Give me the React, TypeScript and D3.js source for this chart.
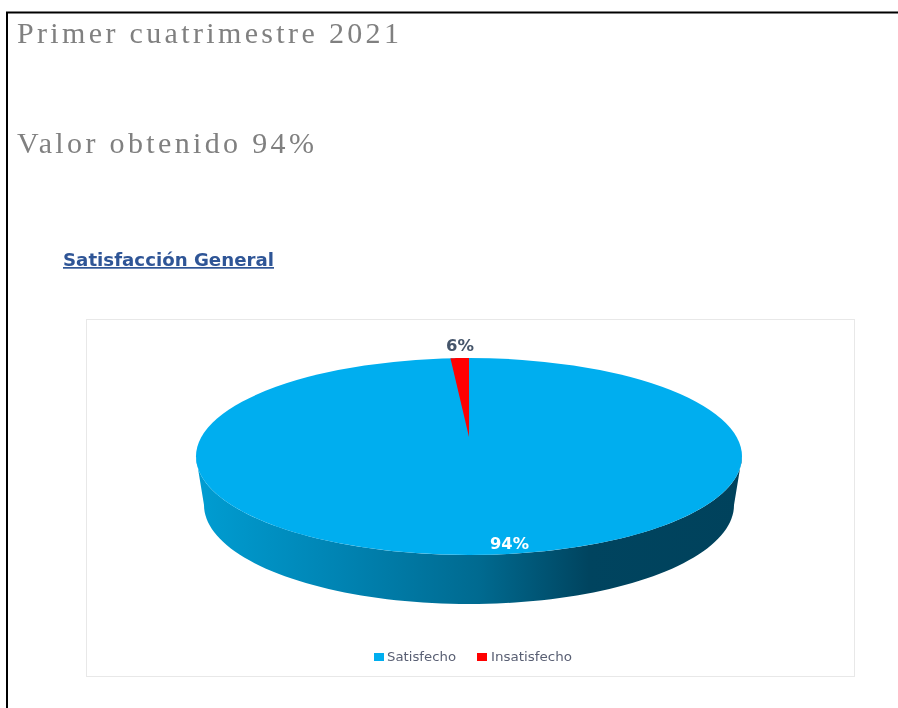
import React from "react";
import * as d3 from "d3";

const categories = ["Satisfecho", "Insatisfecho"];
const values = [94, 6];
const valueLabels = ["94%", "6%"];
const colors = ["#00aeef", "#ff0000"];
const headings = ["Primer cuatrimestre 2021", "Valor obtenido 94%"];
const chartTitle = "Satisfacción General";

const W = 898, H = 708;
const cx = 469, rx = 273, topCy = 456.5, ry = 98.5;
const bottomRx = 265, bottomCy = 505, bottomRy = 99;
const apexY = 437;
// The reference compresses the small slice strongly: its on-screen sweep is far below its share.
const sweepScale = d3.scaleLinear().domain([0, 6]).range([0, (3.9 * Math.PI) / 180]);

const pie = d3.pie<number>().sort(null).value((d) => d);
const arcs = pie(values);
const sliceSweep = sweepScale(arcs[1].value);
const rim = (a: number): [number, number] => [cx + rx * Math.sin(a), topCy - ry * Math.cos(a)];

const line = d3.line();
const steps = d3.range(0, 1.0001, 0.1);
const slicePath =
  line([[cx, apexY], ...steps.map((t) => rim(-sliceSweep * (1 - t)))])! + "Z";

const sideAngles = d3.range(Math.PI / 2, (3 * Math.PI) / 2 + 0.001, Math.PI / 90);
const lower = sideAngles.map((a): [number, number] => [
  cx + bottomRx * Math.sin(a),
  bottomCy - bottomRy * Math.cos(a),
]);
const upper = sideAngles.map(rim).reverse();
const sidePath = line([...lower, ...upper])! + "Z";

export default function App() {
  return (
    <svg
      width={W}
      height={H}
      viewBox={`0 0 ${W} ${H}`}
      style={{ position: "absolute", left: 0, top: 0, display: "block", background: "#fff" }}
    >
      <defs>
        <linearGradient id="side" gradientUnits="userSpaceOnUse" x1={196} x2={742} y1={0} y2={0}>
          <stop offset="0" stopColor="#009dd2" />
          <stop offset="0.27" stopColor="#0083b2" />
          <stop offset="0.52" stopColor="#006a90" />
          <stop offset="0.72" stopColor="#00445f" />
          <stop offset="1" stopColor="#00425c" />
        </linearGradient>
        <filter id="soft" x="-5%" y="-30%" width="110%" height="160%">
          <feGaussianBlur stdDeviation="0.35" />
        </filter>
      </defs>

      <line x1={7} x2={7} y1={12} y2={H} stroke="#000" strokeWidth={2} />
      <line x1={6} x2={W} y1={12.5} y2={12.5} stroke="#000" strokeWidth={2} />

      <g fontFamily="'Liberation Serif', serif" fontSize={30} fill="#808080" letterSpacing={3.35} filter="url(#soft)">
        <text x={17} y={43}>{headings[0]}</text>
        <text x={17} y={153}>{headings[1]}</text>
      </g>

      <text
        x={63}
        y={266}
        fontFamily="'DejaVu Sans', sans-serif"
        fontSize={17}
        fontWeight={700}
        fill="#2f5496"
        textDecoration="underline"
        textLength={211}
        lengthAdjust="spacingAndGlyphs"
        filter="url(#soft)"
      >
        {chartTitle}
      </text>

      <rect x={86.5} y={319.5} width={768} height={357} fill="#fff" stroke="#e8e8e8" />

      <path d={sidePath} fill="url(#side)" />
      <ellipse cx={cx} cy={topCy} rx={rx} ry={ry} fill={colors[0]} />
      <path d={slicePath} fill={colors[1]} />

      <g fontFamily="'DejaVu Sans', sans-serif" fontSize={15} fontWeight={700} filter="url(#soft)">
        <text x={446} y={351} fill="#44546a" textLength={28} lengthAdjust="spacingAndGlyphs">{valueLabels[1]}</text>
        <text x={490} y={549} fill="#fff" textLength={39} lengthAdjust="spacingAndGlyphs">{valueLabels[0]}</text>
      </g>

      <g fontFamily="'DejaVu Sans', sans-serif" fontSize={12} fill="#595f73" filter="url(#soft)">
        {categories.map((c, i) => {
          const x = i === 0 ? 374 : 477;
          return (
            <g key={c}>
              <rect x={x} y={653} width={10} height={8} fill={colors[i]} />
              <text
                x={x + (i === 0 ? 13 : 14)}
                y={661}
                textLength={i === 0 ? 69 : 81}
                lengthAdjust="spacingAndGlyphs"
              >
                {c}
              </text>
            </g>
          );
        })}
      </g>
    </svg>
  );
}
